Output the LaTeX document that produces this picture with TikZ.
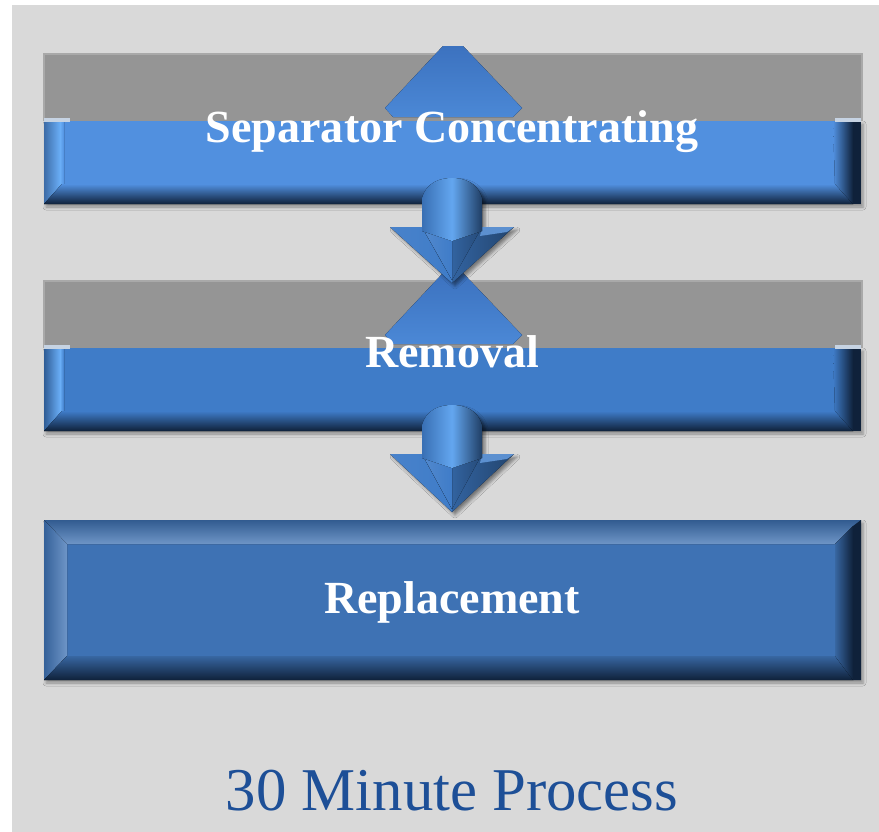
\documentclass[tikz,border=0pt]{standalone}
\usepackage{fontspec}
\setmainfont{Liberation Serif}
\usetikzlibrary{shadows.blur}

\definecolor{bgGray}{HTML}{D9D9D9}
\definecolor{capGray}{HTML}{959595}
\definecolor{capEdge}{HTML}{A9A9A9}
\definecolor{navy}{HTML}{0F213A}
\definecolor{faceA}{HTML}{5190DF}
\definecolor{faceB}{HTML}{3F7CC8}
\definecolor{faceC}{HTML}{3E72B4}
\definecolor{glint}{HTML}{6AAEF7}
\definecolor{titleBlue}{HTML}{1D4F97}
\definecolor{tipTop}{HTML}{3C72BF}
\definecolor{tipBot}{HTML}{4B88D6}
\definecolor{patch}{HTML}{C6D3E3}

\tikzset{
  boxtext/.style={anchor=base, text=white, font=\fontsize{46.2}{50}\selectfont\bfseries, inner sep=0pt},
  titletext/.style={anchor=base, text=titleBlue, font=\fontsize{61}{66}\selectfont, inner sep=0pt},
  slabshadow/.style={blur shadow={shadow xshift=2bp, shadow yshift=-3bp, shadow blur radius=3bp, shadow opacity=35}},
}

% bar whose top bevel is hidden under a grey band: #1 left, #2 top, #3 right, #4 bottom, #5 face colour
\newcommand\openslab[5]{%
  \path[slabshadow] (#1,#2) rectangle (#3,#4);
  \fill[#5] (#1,#2) rectangle (#3,#4);
  \fill[left color=#5!75!black, right color=glint] (#1,#2) -- (#1+16,#2) -- (#1+16,#4-18) -- (#1,#4) -- cycle;
  \fill[left color=glint, right color=#5] (#1+16,#2) -- (#1+20,#2) -- (#1+20,#4-20) -- (#1+16,#4-18) -- cycle;
  \fill[top color=#5, bottom color=navy] (#1,#4) -- (#1+18,#4-20) -- (#3-26,#4-20) -- (#3-8,#4) -- cycle;
  \fill[left color=#5, right color=navy] (#3-28,#2) -- (#3-8,#2) -- (#3-8,#4) -- (#3-26,#4-20) -- cycle;
  \fill[navy] (#3-8,#2) rectangle (#3,#4);
  \fill[patch] (#1,#2-3) rectangle (#1+26,#2+1);
  \fill[patch] (#3-26,#2-3) rectangle (#3,#2+1);
}

% fully bevelled bar: #1 left, #2 top, #3 right, #4 bottom, #5 face colour
\newcommand\fullslab[5]{%
  \path[slabshadow] (#1,#2) rectangle (#3,#4);
  \fill[#5] (#1,#2) rectangle (#3,#4);
  \fill[top color=#5!80!black, bottom color=#5!75!white] (#1,#2) -- (#3,#2) -- (#3-26,#2+24) -- (#1+23,#2+24) -- cycle;
  \fill[left color=#5!85!black, right color=#5!75!white] (#1,#2) -- (#1+23,#2+24) -- (#1+23,#4-24) -- (#1,#4) -- cycle;
  \fill[top color=#5!90!black, bottom color=navy] (#1,#4) -- (#1+23,#4-24) -- (#3-26,#4-24) -- (#3-8,#4) -- cycle;
  \fill[left color=#5!90!black, right color=navy] (#3-26,#2+24) -- (#3-8,#2+6) -- (#3-8,#4) -- (#3-26,#4-24) -- cycle;
  \fill[navy] (#3-8,#2+6) -- (#3,#2) -- (#3,#4) -- (#3-8,#4) -- cycle;
}

% grey band with soft rim: #1 left, #2 top, #3 right, #4 bottom
\newcommand\capband[4]{%
  \fill[capEdge] (#1-1,#2-2) rectangle (#3+2,#4);
  \fill[capGray] (#1+1,#2) rectangle (#3,#4);
}

% clipped arrow head poking up from a bar: #1 vertical offset
\newcommand\uptip[1]{%
  \fill[top color=tipTop, bottom color=tipBot]
    (443,46+#1) -- (463,46+#1) -- (522,108+#1) -- (513,117+#1) -- (393,117+#1) -- (385,108+#1) -- cycle;
}

% 3-D down arrow: #1 centre x, #2 shaft top, #3 head top, #4 tip
\newcommand\downarrowshape[4]{%
  \path[blur shadow={shadow xshift=3bp, shadow yshift=-3bp, shadow blur radius=3bp, shadow opacity=45}]
    (#1-30,#2+20) .. controls (#1-25,#2+3) and (#1-10,#2) .. (#1,#2)
    .. controls (#1+10,#2) and (#1+25,#2+3) .. (#1+30,#2+20)
    -- (#1+30,#3) -- (#1+62,#3) -- (#1,#4) -- (#1-62,#3) -- (#1-30,#3) -- cycle;
  % head wings
  \fill[left color=faceB!95!white, right color=faceB] (#1-62,#3) -- (#1,#3) -- (#1,#4) -- cycle;
  \fill[left color=faceB!80!black, right color=faceB!55!black] (#1,#3) -- (#1+62,#3) -- (#1,#4) -- cycle;
  \fill[faceB!85!white] (#1+30,#3) -- (#1+62,#3) -- (#1+55,#3+5) -- (#1+28,#3+9) -- cycle;
  % inner fold below the shaft
  \fill[left color=faceB, right color=faceB!60!black] (#1-30,#3) -- (#1+30,#3) -- (#1,#4-3) -- cycle;
  \fill[left color=faceB!90!white, right color=faceB] (#1-30,#3) -- (#1,#3+12) -- (#1,#4-3) -- cycle;
  % shaft
  \fill[left color=faceB!90!black, right color=faceB!50!black, middle color=glint!85!faceB]
    (#1-30,#3+4) -- (#1-30,#2+20) .. controls (#1-25,#2+3) and (#1-10,#2) .. (#1,#2)
    .. controls (#1+10,#2) and (#1+25,#2+3) .. (#1+30,#2+20) -- (#1+30,#3+4) -- (#1,#3+14) -- cycle;
}

\begin{document}
\begin{tikzpicture}[x=1bp, y=-1bp]
  \useasboundingbox (0,0) rectangle (879,832);
  \fill[white] (0,0) rectangle (879,832);
  \fill[bgGray] (12,5) rectangle (879,832);

  % grey bands behind the upper two bars
  \capband{44}{55}{861}{121}
  \capband{44}{282}{861}{348}

  % bars
  \openslab{44}{121}{861}{204}{faceA}
  \openslab{44}{348}{861}{431}{faceB}
  \fullslab{44}{520}{861}{680}{faceC}

  % arrow heads showing above the upper bars
  \uptip{0}
  \uptip{227}

  % down arrows between the bars
  \downarrowshape{452}{178}{227}{283}
  \downarrowshape{452}{405}{454}{512}

  % labels
  \node[boxtext] (sep) at (452,142) {Separator Concentrating};
  \node[boxtext] (rem) at (452,367) {Removal};
  \node[boxtext] (rep) at (452,613) {Replacement};
  \node[titletext] (title) at (452,810) {30 Minute Process};
\end{tikzpicture}
\end{document}
